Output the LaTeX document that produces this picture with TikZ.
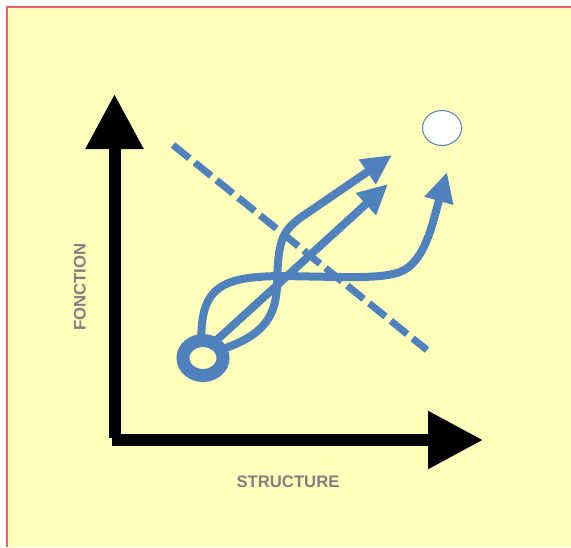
\documentclass[tikz,border=0pt]{standalone}
\usepackage{fontspec}
\setmainfont{Liberation Sans}
\usetikzlibrary{arrows.meta,shapes.geometric}
\definecolor{bg}{HTML}{FFFFBB}
\definecolor{edgered}{HTML}{E3646E}
\definecolor{office}{HTML}{4F81BD}
\definecolor{lbl}{HTML}{808080}
\begin{document}
\begin{tikzpicture}[x=1pt,y=-1pt,
  axis/.style={line width=12pt, -{Triangle[length=55pt,width=55pt]}},
  flow/.style={office, line width=8pt, -{Triangle[length=30pt,width=28pt]}},
  lab/.style={font=\bfseries\fontsize{16.7pt}{20pt}\selectfont, text=lbl, inner sep=0pt},
  ringnode/.style={ellipse, draw=office, line width=13pt, minimum width=40pt, minimum height=35pt, inner sep=0pt, outer sep=0pt},
  goalnode/.style={ellipse, draw=office, line width=1pt, fill=white, minimum width=39pt, minimum height=35pt, inner sep=0pt, outer sep=0pt},
  ]
\useasboundingbox (0,0) rectangle (571,547);
\fill[white] (0,0) rectangle (571,547);
\fill[bg] (7,7) rectangle (571,547);
\draw[edgered, line width=1.5pt] (7,547) -- (7,7) -- (571,7);

% axes
\coordinate (ybase) at (114.5,438);
\coordinate (ytip) at (114.5,94);
\coordinate (xbase) at (112,440);
\coordinate (xtip) at (483,440);
\draw[axis] (ybase) -- (ytip);
\draw[axis] (xbase) -- (xtip);

% labels
\node[lab, rotate=90] (fonction) at (80,287) {FONCTION};
\node[lab] (structure) at (288,482) {STRUCTURE};

% dashed line
\coordinate (d1) at (173,145);
\coordinate (d2) at (427,350);
\draw[office, line width=7pt, dash pattern=on 21pt off 7pt] (d1) -- (d2);

% ring and goal
\node[ringnode] (ring) at (203,358) {};
\node[goalnode] (goal) at (442,128) {};

\coordinate (t1) at (392,155);
\coordinate (t2) at (388,184);
\coordinate (t3) at (447,172);

\draw[flow] (ring.25) .. controls (262,336) and (276,318) .. (277,285)
   .. controls (278,240) and (282,232) .. (300,218) -- (t1);
\draw[flow] (ring.55) -- (t2);
\draw[flow] (ring.95) .. controls (200,285) and (225,277) .. (280,276)
   .. controls (350,277) and (380,279) .. (400,272)
   .. controls (425,262) and (432,225) .. (t3);
\end{tikzpicture}
\end{document}
